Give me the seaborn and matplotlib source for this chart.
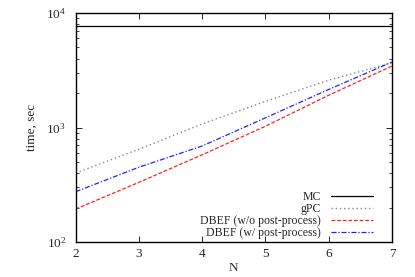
import numpy as np
import pandas as pd
import seaborn as sns
import matplotlib
matplotlib.use('Agg')
import matplotlib.pyplot as plt
from matplotlib.ticker import LogLocator, NullFormatter

N = [2, 3, 4, 5, 6, 7]
mc = [7700, 7700, 7700, 7700, 7700, 7700]
gpc = [400, 646, 1075, 1690, 2590, 3680]
dbef_wo = [194, 332, 578, 1026, 1914, 3445]
dbef_w = [275, 450, 690, 1215, 2150, 3730]

sns.set_style('ticks')
plt.rcParams['font.family'] = ['Liberation Serif', 'DejaVu Serif']
plt.rcParams['mathtext.fontset'] = 'stix'

fig = plt.figure(figsize=(4.15, 2.77), dpi=100)
ax = fig.add_axes([0.1824, 0.1264, 0.7622, 0.8266])

# one call per curve, gnuplot-like styles
sns.lineplot(x=N, y=mc, ax=ax, color='black', lw=0.9, label='MC')
sns.lineplot(x=N, y=gpc, ax=ax, color='#888888', lw=1.0, linestyle=(0, (1, 2)), label='gPC')
sns.lineplot(x=N, y=dbef_wo, ax=ax, color='#ff2020', lw=0.9, linestyle=(0, (3, 1.5)),
             label='DBEF (w/o post-process)')
sns.lineplot(x=N, y=dbef_w, ax=ax, color='#2020ff', lw=0.9, linestyle=(0, (4, 1.5, 1, 1.5)),
             label='DBEF (w/ post-process)')

ax.set_yscale('log')
ax.set_xlim(2, 7)
ax.set_ylim(100, 10000)
ax.set_xticks(N)
ax.yaxis.set_major_locator(LogLocator(base=10, numticks=5))
ax.yaxis.set_minor_locator(LogLocator(base=10, subs=np.arange(2, 10), numticks=10))
ax.yaxis.set_minor_formatter(NullFormatter())

for s in ax.spines.values():
    s.set_visible(True)
    s.set_linewidth(1.0)
    s.set_color('black')
ax.tick_params(which='both', direction='in', top=True, right=True, labelsize=9.5)
ax.tick_params(axis='y', pad=7)
ax.tick_params(axis='x', pad=4)
ax.tick_params(which='major', length=4, width=0.7)
ax.tick_params(which='minor', length=2.5, width=0.6)

ax.set_xlabel('N', fontsize=9.5, labelpad=2)
ax.set_ylabel('time, sec', fontsize=9.5, labelpad=6)

leg = ax.legend(loc='lower right', frameon=False, markerfirst=False, fontsize=8.5,
                handlelength=3.6, handletextpad=0.85, labelspacing=0.0,
                borderpad=0, borderaxespad=0, bbox_to_anchor=(0.94, 0.012))
for t in leg.get_texts():
    t.set_ha('right')

fig.savefig('out.png', dpi=100)
